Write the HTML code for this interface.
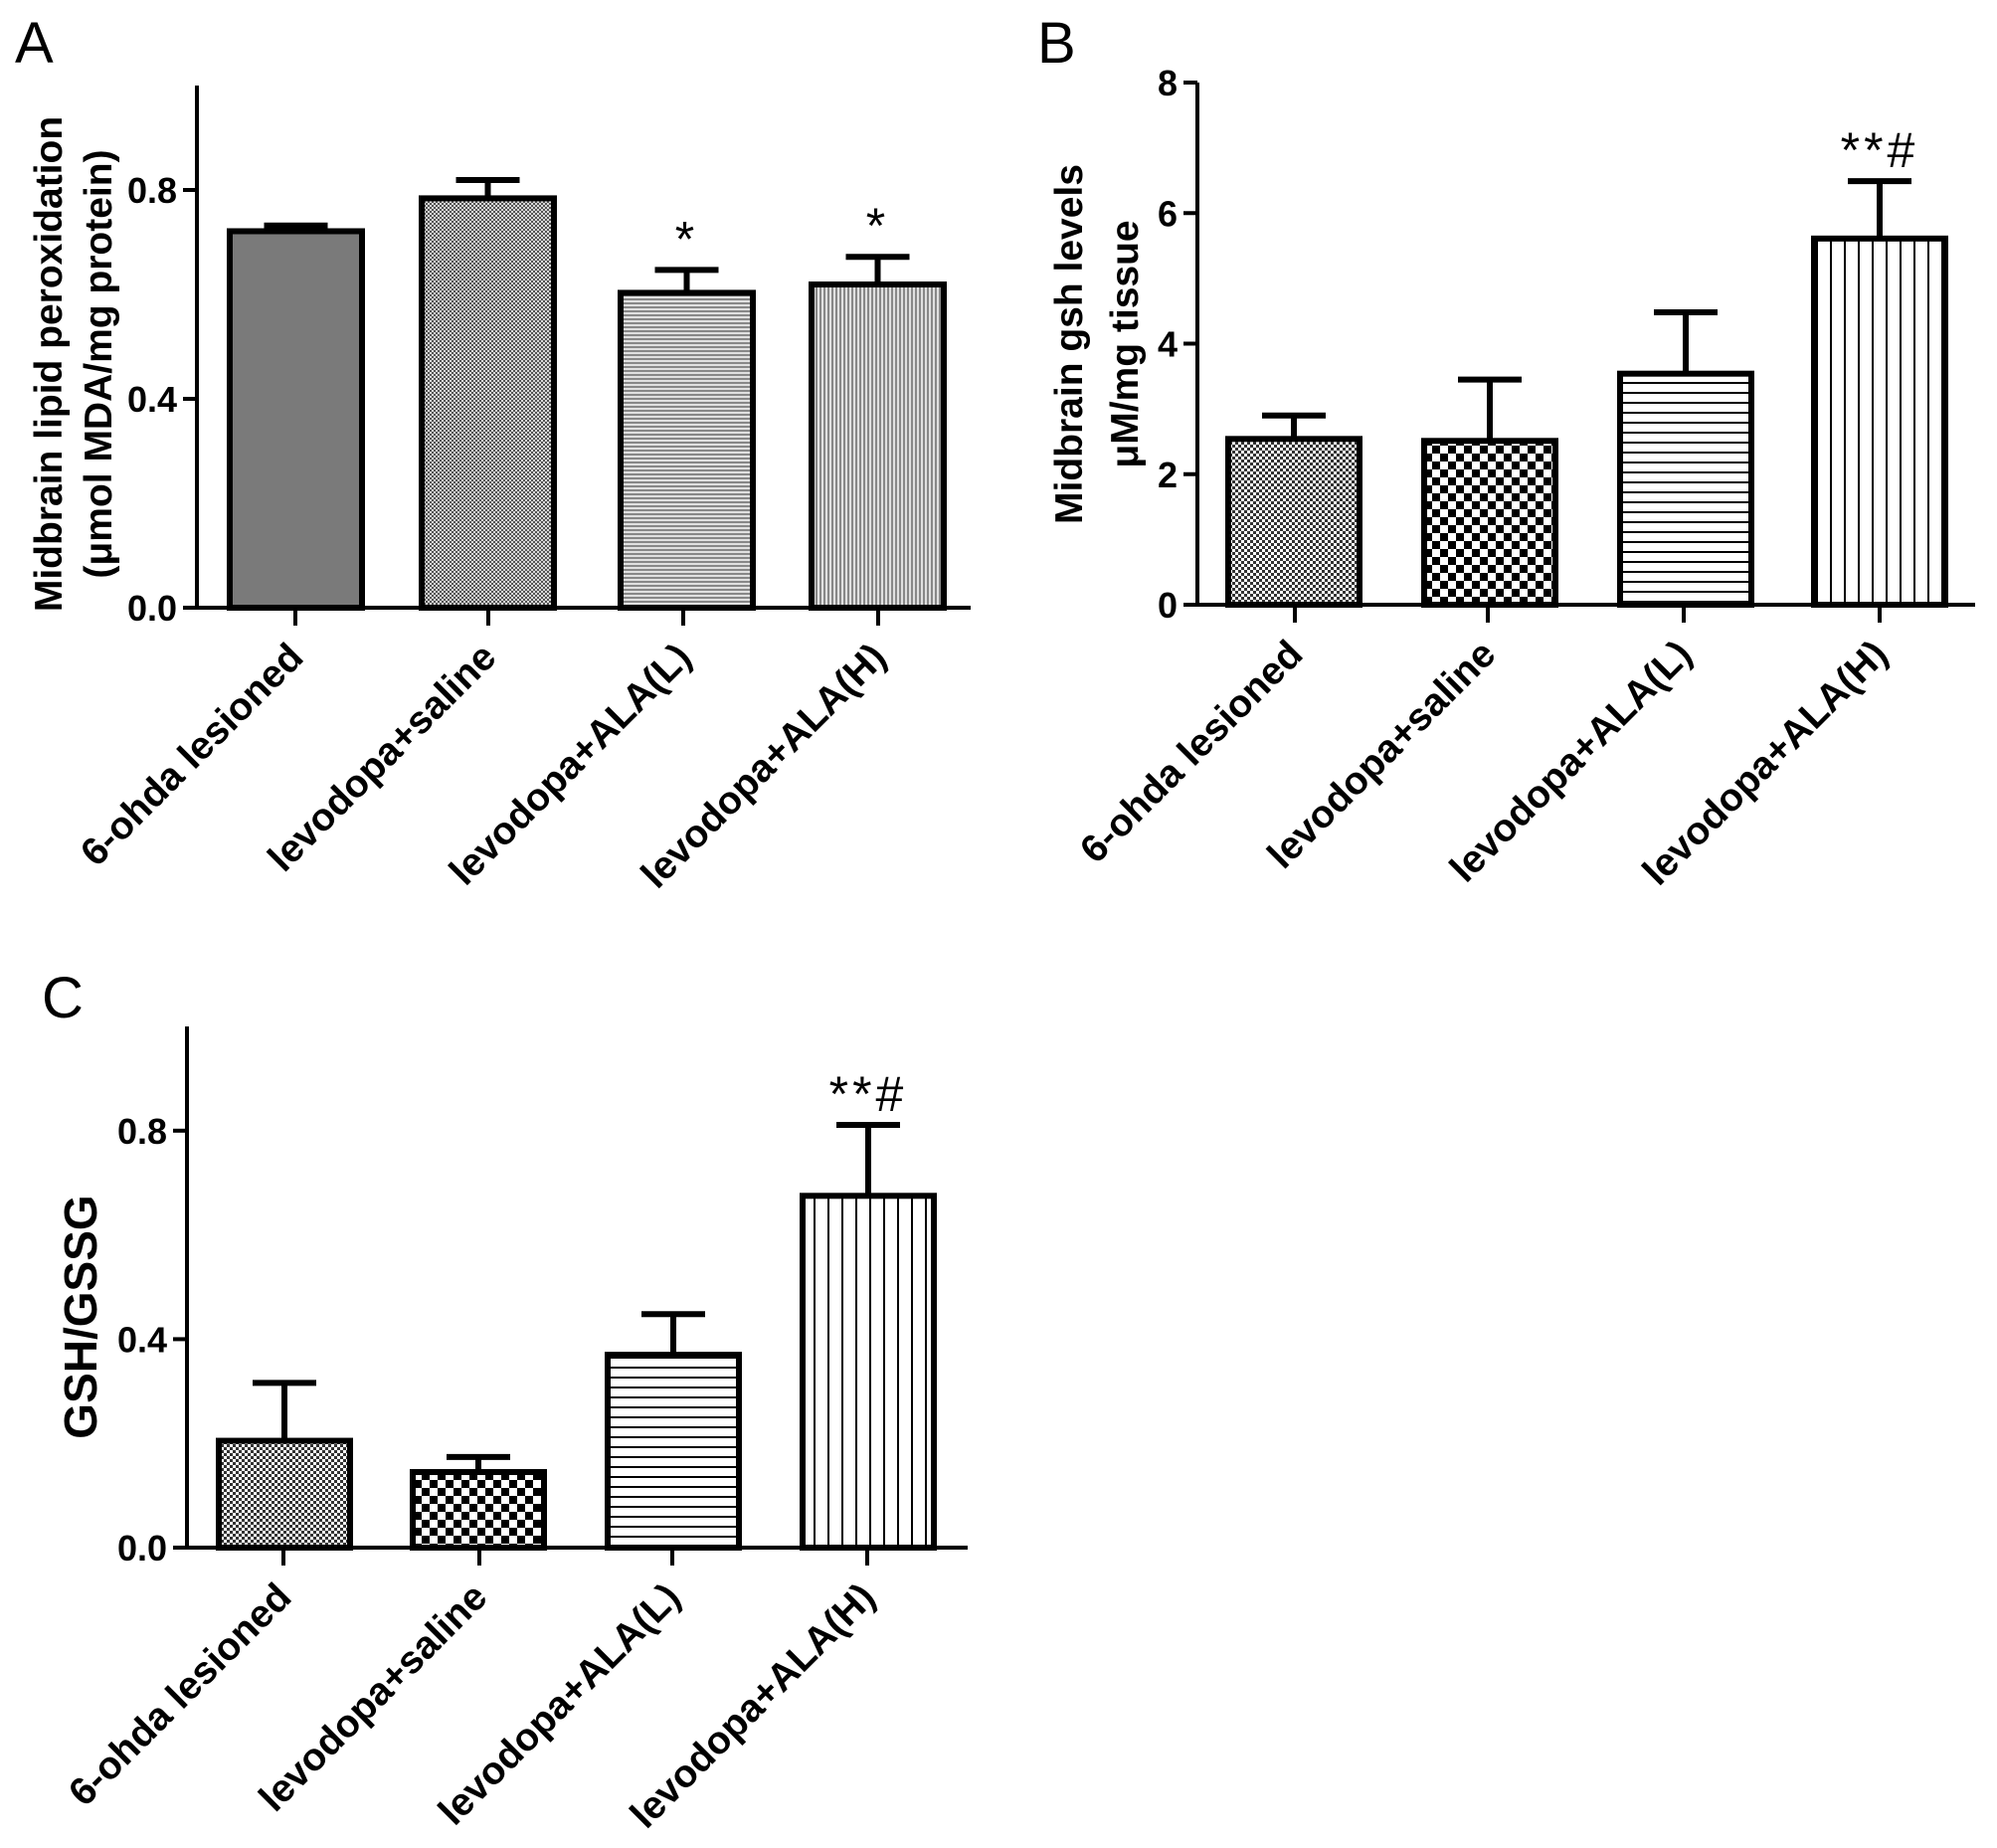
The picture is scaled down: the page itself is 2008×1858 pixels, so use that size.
<!DOCTYPE html>
<html><head><meta charset="utf-8"><style>
html,body{margin:0;padding:0;background:#fff}
svg{display:block;font-family:"Liberation Sans",Arial,sans-serif}
</style></head><body>
<svg id="fig" width="2008" height="1858" viewBox="0 0 2008 1858" xmlns="http://www.w3.org/2000/svg">
<defs>
<pattern id="pSolid" width="4" height="4" patternUnits="userSpaceOnUse"><rect width="4" height="4" fill="#7a7a7a"/></pattern>
<pattern id="pFineDot" width="4" height="4" patternUnits="userSpaceOnUse"><rect width="4" height="4" fill="#d8d8d8"/><rect width="2" height="2" fill="#555"/><rect x="2" y="2" width="2" height="2" fill="#555"/></pattern>
<pattern id="pFineH" width="4" height="4" patternUnits="userSpaceOnUse"><rect width="4" height="4" fill="#e0e0e0"/><rect width="4" height="2" fill="#888"/></pattern>
<pattern id="pFineV" width="4" height="4" patternUnits="userSpaceOnUse"><rect width="4" height="4" fill="#e0e0e0"/><rect width="2" height="4" fill="#888"/></pattern>
<pattern id="pDot" width="6" height="6" patternUnits="userSpaceOnUse"><rect width="6" height="6" fill="#fff"/><rect width="3" height="3" fill="#333"/><rect x="3" y="3" width="3" height="3" fill="#333"/></pattern>
<pattern id="pChecker" width="16" height="16" patternUnits="userSpaceOnUse"><rect width="16" height="16" fill="#fff"/><rect width="8" height="8" fill="#000"/><rect x="8" y="8" width="8" height="8" fill="#000"/></pattern>
<pattern id="pHLines" width="10" height="10" patternUnits="userSpaceOnUse"><rect width="10" height="10" fill="#fff"/><rect y="4" width="10" height="2" fill="#000"/></pattern>
<pattern id="pVLines" width="14" height="14" patternUnits="userSpaceOnUse"><rect width="14" height="14" fill="#fff"/><rect x="6" width="2" height="14" fill="#000"/></pattern>
</defs>
</svg>
<script>
const categories = ["6-ohda lesioned","levodopa+saline","levodopa+ALA(L)","levodopa+ALA(H)"];
const valuesA = [0.721, 0.784, 0.603, 0.619];
const errorsA = [0.732, 0.819, 0.647, 0.672];
const annotA = ["", "", "*", "*"];
const ticksA = [0.0, 0.4, 0.8];
const tickLabelsA = ["0.0","0.4","0.8"];
const valuesB = [2.54, 2.51, 3.54, 5.61];
const errorsB = [2.90, 3.45, 4.48, 6.49];
const annotB = ["", "", "", "**#"];
const ticksB = [0, 2, 4, 6, 8];
const tickLabelsB = ["0","2","4","6","8"];
const valuesC = [0.205, 0.145, 0.370, 0.675];
const errorsC = [0.316, 0.174, 0.448, 0.811];
const annotC = ["", "", "", "**#"];
const ticksC = [0.0, 0.4, 0.8];
const tickLabelsC = ["0.0","0.4","0.8"];

const NS = "http://www.w3.org/2000/svg";
const svg = document.getElementById('fig');
function mk(tag, attrs, parent, text){
  const e = document.createElementNS(NS, tag);
  for (const k in attrs) e.setAttribute(k, attrs[k]);
  if (text !== undefined) e.textContent = text;
  (parent||svg).appendChild(e);
  return e;
}

function panel(cfg){
  const g = mk('g', {});
  
  
  const y = v => cfg.base - (v - 0) / cfg.ymax * (cfg.base - cfg.top);
  cfg.values.forEach((v, i) => {
    const x0 = cfg.barL[i], w = cfg.barW;
    const yt = y(v);
    const r = mk('rect', {x:x0, y:yt, width:w, height:cfg.base - yt, fill:'url(#'+cfg.fills[i]+')', stroke:'#000', 'stroke-width':6}, g);
    
    
    const cx = x0 + w/2, ye = y(cfg.errors[i]);
    const eb = mk('path', {d:`M${cx} ${yt} V${ye} M${cx-32} ${ye} H${cx+32}`, stroke:'#000', 'stroke-width':6, fill:'none'}, g);
    
    
    if (cfg.annot[i]) {
      const t = mk('text', {x:cx, y:ye - 14, 'text-anchor':'middle', 'font-size':50, 'letter-spacing':4, 'font-family':'"Liberation Sans",sans-serif'}, g, cfg.annot[i]);
      
      
    }
    const tx = cfg.ticksX[i];
    mk('line', {x1:tx, y1:cfg.base, x2:tx, y2:cfg.base + 18, stroke:'#000', 'stroke-width':4}, g);
    const lx = tx + 10, ly = cfg.base + 52;
    const lab = mk('text', {x:lx, y:ly, 'text-anchor':'end', 'font-size':39, 'font-weight':'bold', transform:`rotate(-45 ${lx} ${ly})`}, g, categories[i]);
    
    
  });
  const ya = mk('line', {x1:cfg.ax, y1:cfg.top, x2:cfg.ax, y2:cfg.base + 2, stroke:'#000', 'stroke-width':4}, g);
  
  
  const xa = mk('line', {x1:cfg.ax - 14, y1:cfg.base, x2:cfg.axEnd, y2:cfg.base, stroke:'#000', 'stroke-width':4}, g);
  
  
  cfg.ticks.forEach((t, i) => {
    const yy = y(t);
    mk('line', {x1:cfg.ax - 14, y1:yy, x2:cfg.ax, y2:yy, stroke:'#000', 'stroke-width':4}, g);
    const tl = mk('text', {x:cfg.ax - 20, y:yy + 13, 'text-anchor':'end', 'font-size':36, 'font-weight':'bold'}, g, cfg.tickLabels[i]);
    
    
  });
  cfg.title.forEach((line, i) => {
    const tx = cfg.titleX[i], ty = cfg.titleY;
    const tt = mk('text', {x:tx, y:ty, 'text-anchor':'middle', 'font-size':cfg.titleSize, 'font-weight':'bold', transform:`rotate(-90 ${tx} ${ty})`}, g, line);
    
    
  });
  const pl = mk('text', {x:cfg.letter[0], y:cfg.letter[1], 'font-size':58}, g, cfg.letterText);
  
  
}

panel({name:'panel-a', ax:198, axEnd:976, base:611, top:86, ymax:1.0,
  barL:[231,424,624,816], barW:133, ticksX:[297,491,687,883],
  values:valuesA, errors:errorsA, annot:annotA, ticks:ticksA, tickLabels:tickLabelsA,
  fills:['pSolid','pFineDot','pFineH','pFineV'],
  title:['Midbrain lipid peroxidation','(μmol MDA/mg protein)'], titleX:[62,112], titleY:366, titleSize:39,
  letter:[15,63], letterText:'A'});

panel({name:'panel-b', ax:1204, axEnd:1986, base:608, top:83, ymax:8,
  barL:[1235,1432,1629,1824], barW:132, ticksX:[1302,1496,1693,1890],
  values:valuesB, errors:errorsB, annot:annotB, ticks:ticksB, tickLabels:tickLabelsB,
  fills:['pDot','pChecker','pHLines','pVLines'],
  title:['Midbrain gsh levels','μM/mg tissue'], titleX:[1088,1144], titleY:346, titleSize:39,
  letter:[1043,63], letterText:'B'});

panel({name:'panel-c', ax:188, axEnd:973, base:1556, top:1032, ymax:1.0,
  barL:[220,415,611,807], barW:132, ticksX:[285,482,676,872],
  values:valuesC, errors:errorsC, annot:annotC, ticks:ticksC, tickLabels:tickLabelsC,
  fills:['pDot','pChecker','pHLines','pVLines'],
  title:['GSH/GSSG'], titleX:[97], titleY:1324, titleSize:46,
  letter:[42,1023], letterText:'C'});
</script>
</body></html>
